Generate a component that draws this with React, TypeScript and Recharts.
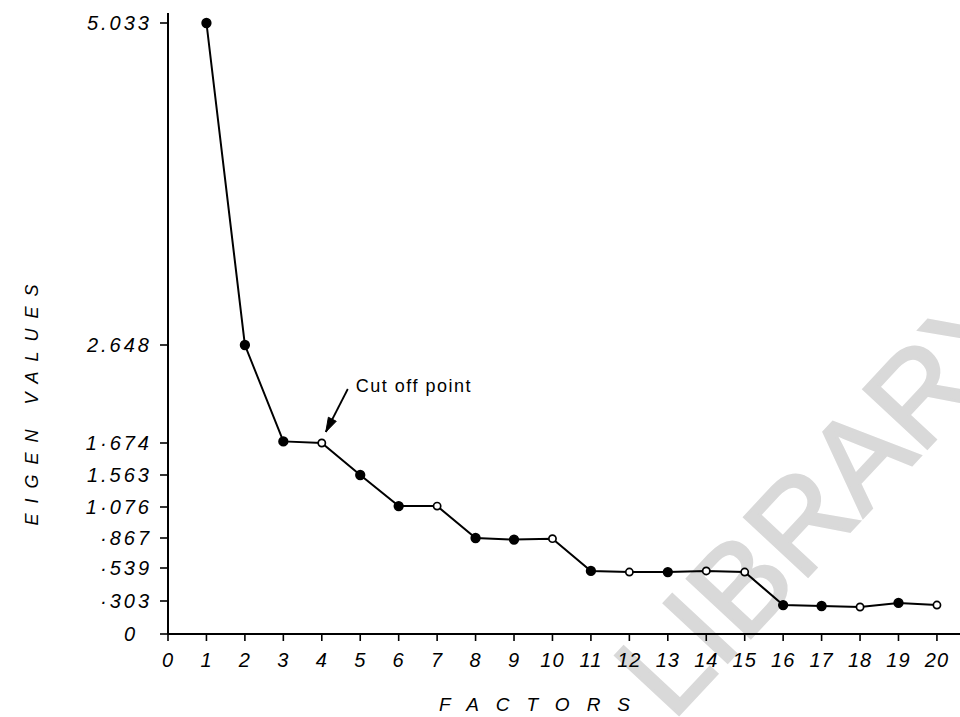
import { LineChart, Line, XAxis, YAxis, ReferenceDot, Label } from 'recharts';

const FACTORS = [1, 2, 3, 4, 5, 6, 7, 8, 9, 10, 11, 12, 13, 14, 15, 16, 17, 18, 19, 20];
const EIGEN_VALUES = [
  5.033, 2.648, 1.69, 1.674, 1.563, 1.09, 1.09, 0.867, 0.85, 0.86,
  0.518, 0.51, 0.51, 0.518, 0.51, 0.266, 0.257, 0.248, 0.285, 0.266,
];
// factors drawn with a hollow circle
const OPEN_POINTS = [4, 7, 10, 12, 14, 15, 18, 20];
const CUT_OFF_FACTOR = 4;

const X_TICKS = [0, 1, 2, 3, 4, 5, 6, 7, 8, 9, 10, 11, 12, 13, 14, 15, 16, 17, 18, 19, 20];
const Y_TICK_VALUES = [0, 0.303, 0.539, 0.867, 1.076, 1.563, 1.674, 2.648, 5.033];
const Y_TICK_LABELS = ['0', '·303', '·539', '·867', '1·076', '1.563', '1·674', '2.648', '5.033'];

// the hand drawn axis does not space its values evenly, so the y scale is
// piecewise linear: drawn height (px above the origin) of each labelled value
const Y_TICK_HEIGHTS = [0, 33, 66, 96, 127, 159, 191, 289, 611];
const Y_AXIS_TOP = 621;

const FONT = '"Liberation Sans", Arial, sans-serif';

function toDrawnHeight(v: number) {
  const n = Y_TICK_VALUES.length;
  for (let i = 1; i < n; i++) {
    if (v <= Y_TICK_VALUES[i] || i === n - 1) {
      const v0 = Y_TICK_VALUES[i - 1];
      const v1 = Y_TICK_VALUES[i];
      const h0 = Y_TICK_HEIGHTS[i - 1];
      const h1 = Y_TICK_HEIGHTS[i];
      return h0 + ((v - v0) / (v1 - v0)) * (h1 - h0);
    }
  }
  return 0;
}

const chartData = FACTORS.map((factor, i) => ({
  factor,
  eigen: EIGEN_VALUES[i],
  drawn: toDrawnHeight(EIGEN_VALUES[i]),
}));

function FactorDot(props: any) {
  const { cx, cy, payload } = props;
  if (cx == null || cy == null) return null;
  const open = OPEN_POINTS.includes(payload.factor);
  return (
    <circle
      key={`dot-${payload.factor}`}
      cx={cx}
      cy={cy}
      r={open ? 3.6 : 4.3}
      fill={open ? '#fff' : '#000'}
      stroke="#000"
      strokeWidth={1.7}
    />
  );
}

function CutOffNote(props: any) {
  const { cx, cy } = props;
  if (cx == null || cy == null) return null;
  const tipX = cx + 4;
  const tipY = cy - 11;
  const tailX = cx + 26;
  const tailY = cy - 54;
  const ang = Math.atan2(tipY - tailY, tipX - tailX);
  const len = 15;
  const spread = 0.3;
  const p1 = `${tipX - len * Math.cos(ang - spread)},${tipY - len * Math.sin(ang - spread)}`;
  const p2 = `${tipX - len * Math.cos(ang + spread)},${tipY - len * Math.sin(ang + spread)}`;
  return (
    <g>
      <line x1={tailX} y1={tailY} x2={tipX} y2={tipY} stroke="#000" strokeWidth={1.8} />
      <path d={`M${p1} L${tipX},${tipY} L${p2} Z`} fill="#000" stroke="#000" strokeWidth={1} />
      <text x={cx + 34} y={cy - 51} fontFamily={FONT} fontSize={18} letterSpacing={1.5} fill="#000">
        Cut off point
      </text>
    </g>
  );
}

function YTick(props: any) {
  const { x, y, payload } = props;
  const label = Y_TICK_LABELS[Y_TICK_HEIGHTS.indexOf(payload.value)] ?? '';
  // the origin label sits a little further out than the others
  const shift = label === '0' ? -14 : 0;
  return (
    <text
      x={x + shift}
      y={y}
      dy="0.355em"
      textAnchor="end"
      fontFamily={FONT}
      fontStyle="italic"
      fontSize={20}
      letterSpacing={3}
      fill="#000"
    >
      {label}
    </text>
  );
}

const tickStyle = {
  fontFamily: FONT,
  fontStyle: 'italic',
  fontSize: 20,
  fill: '#000',
};

export default function App() {
  return (
    <div style={{ position: 'absolute', left: 0, top: 0, width: 960, height: 717, background: '#fff', overflow: 'hidden' }}>
      <svg width={960} height={717} style={{ position: 'absolute', left: 0, top: 0 }}>
        <text
          x={672}
          y={722}
          transform="rotate(-47 672 722)"
          fontFamily={FONT}
          fontSize={126}
          fill="#d9d9d9"
          stroke="#d9d9d9"
          strokeWidth={3}
        >
          LIBRARY
        </text>
      </svg>
      <div style={{ position: 'absolute', left: 0, top: 0 }}>
        <LineChart width={960} height={717} data={chartData} margin={{ top: 13, right: 0, bottom: 0, left: 0 }}>
          <XAxis
            dataKey="factor"
            type="number"
            domain={[0, 20.6]}
            ticks={X_TICKS}
            interval={0}
            allowDataOverflow
            height={83}
            tickSize={7}
            tickMargin={12}
            axisLine={{ stroke: '#000', strokeWidth: 2 }}
            tickLine={{ stroke: '#000', strokeWidth: 1.6 }}
            tick={{ ...tickStyle, letterSpacing: 1 }}
          >
            <Label
              content={(p: any) => {
                const vb = p.viewBox || { x: 168, y: 634 };
                return (
                  <text
                    x={vb.x + 271}
                    y={vb.y + 77}
                    fontFamily={FONT}
                    fontStyle="italic"
                    fontSize={19}
                    letterSpacing={17}
                    fill="#000"
                  >
                    FACTORS
                  </text>
                );
              }}
            />
          </XAxis>
          <YAxis
            dataKey="drawn"
            type="number"
            domain={[0, Y_AXIS_TOP]}
            ticks={Y_TICK_HEIGHTS}
            interval={0}
            allowDataOverflow
            width={168}
            tickSize={8}
            tickMargin={8}
            axisLine={{ stroke: '#000', strokeWidth: 2 }}
            tickLine={{ stroke: '#000', strokeWidth: 1.6 }}
            tick={YTick}
          >
            <Label
              content={(p: any) => {
                const vb = p.viewBox || { x: 0, y: 13 };
                const x = vb.x + 32;
                const y = vb.y + 387;
                return (
                  <text
                    x={x}
                    y={y}
                    transform={`rotate(-90 ${x} ${y})`}
                    textAnchor="middle"
                    dominantBaseline="central"
                    fontFamily={FONT}
                    fontStyle="italic"
                    fontSize={18}
                    letterSpacing={10}
                    fill="#000"
                  >
                    EIGEN VALUES
                  </text>
                );
              }}
            />
          </YAxis>
          <Line
            dataKey="drawn"
            type="linear"
            stroke="#000"
            strokeWidth={2}
            dot={FactorDot}
            activeDot={false}
            isAnimationActive={false}
          />
          <ReferenceDot
            x={CUT_OFF_FACTOR}
            y={chartData[CUT_OFF_FACTOR - 1].drawn}
            shape={CutOffNote}
            ifOverflow="visible"
          />
        </LineChart>
      </div>
    </div>
  );
}
